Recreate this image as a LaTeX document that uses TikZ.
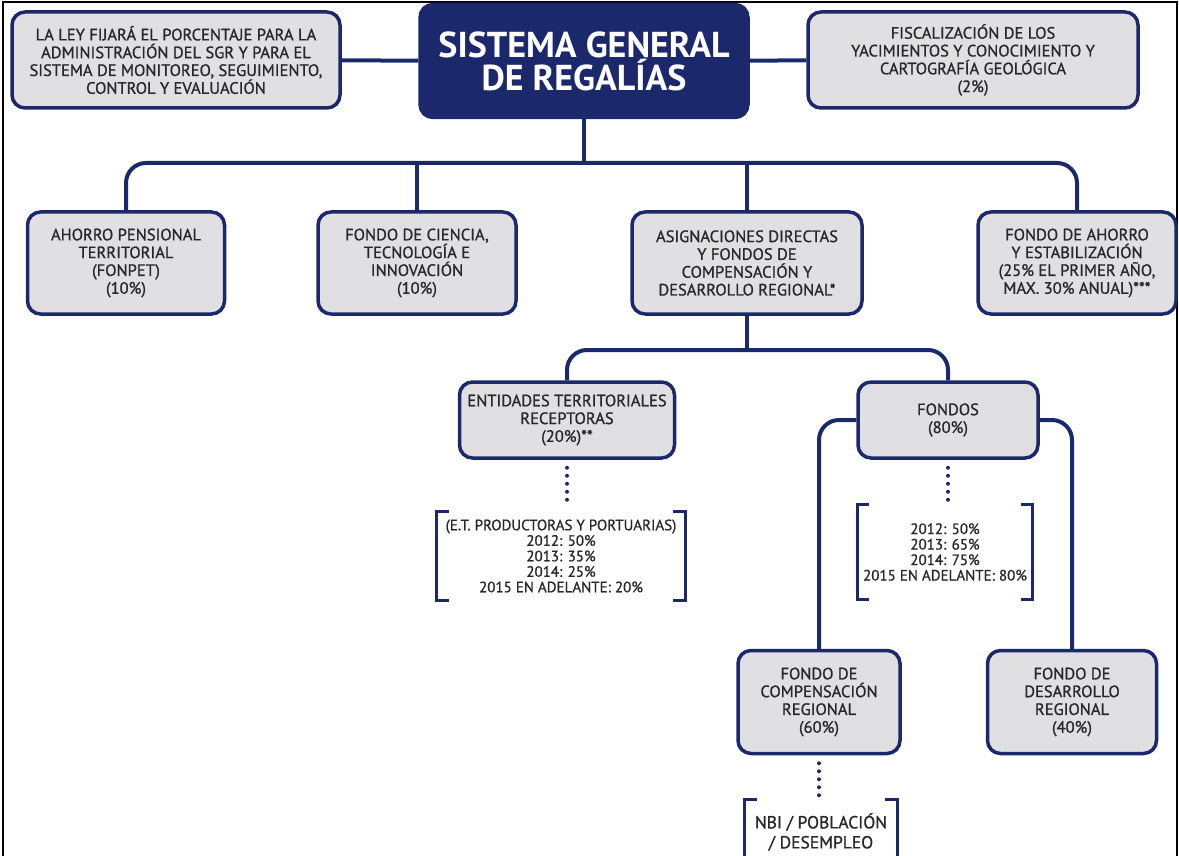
\documentclass[tikz,border=0pt]{standalone}
\usepackage{fontspec}
\setmainfont{PT Sans}
\newfontfamily\cajafont{PT Sans}[FakeBold=1]
\usetikzlibrary{positioning}
\definecolor{azul}{RGB}{28,40,108}
\definecolor{gris}{RGB}{224,224,226}
\definecolor{texto}{RGB}{40,40,44}
\tikzset{
caja/.style={draw=azul,line width=3.5pt,fill=gris,rounded corners=13pt,align=center,text=texto,inner sep=0pt,font=\cajafont\fontsize{16.5}{17.8}\selectfont},
linea/.style={draw=azul,line width=4pt,rounded corners=20pt},
puntos/.style={draw=azul,line width=4pt,line cap=round,dash pattern=on 0pt off 8pt},
corchete/.style={draw=azul,line width=3pt},
lista/.style={align=center,text=texto,inner sep=0pt,font=\cajafont\fontsize{15}{15.5}\selectfont}
}
\begin{document}
\begin{tikzpicture}[x=1pt,y=-1pt]
\useasboundingbox(0,0)rectangle(1179,856);
\begin{scope}
\clip(0,0)rectangle(1179,856);
\draw[line width=2pt](3,870)--(3,2)--(1177,2)--(1177,870);

\node[caja,minimum width=328,minimum height=96](ley)at(176,60){LA LEY FIJARÁ EL PORCENTAJE PARA LA\\ADMINISTRACIÓN DEL SGR Y PARA EL\\SISTEMA DE MONITOREO, SEGUIMIENTO,\\CONTROL Y EVALUACIÓN};
\node[caja,fill=azul,text=white,minimum width=328,minimum height=113,font=\bfseries\fontsize{36}{33}\selectfont](sgr)at(584,61){SISTEMA GENERAL\\DE REGALÍAS};
\node[caja,minimum width=330,minimum height=96](fisc)at(973,60){FISCALIZACIÓN DE LOS\\YACIMIENTOS Y CONOCIMIENTO Y\\CARTOGRAFÍA GEOLÓGICA\\(2\%)};

\node[caja,minimum width=197,minimum height=102](fonpet)at(126,263){AHORRO PENSIONAL\\TERRITORIAL\\(FONPET)\\(10\%)};
\node[caja,minimum width=198,minimum height=102](ciencia)at(417,263){FONDO DE CIENCIA,\\TECNOLOGÍA E\\INNOVACIÓN\\(10\%)};
\node[caja,minimum width=230,minimum height=102](asig)at(747,263){ASIGNACIONES DIRECTAS\\Y FONDOS DE\\COMPENSACIÓN Y\\DESARROLLO REGIONAL*};
\node[caja,minimum width=198,minimum height=102](fae)at(1077,263){FONDO DE AHORRO\\Y ESTABILIZACIÓN\\(25\% EL PRIMER AÑO,\\MAX. 30\% ANUAL)***};

\node[caja,minimum width=215,minimum height=76](ent)at(567,420){ENTIDADES TERRITORIALES\\RECEPTORAS\\(20\%)**};
\node[caja,minimum width=180,minimum height=76](fondos)at(948,420){FONDOS\\(80\%)};

\node[caja,minimum width=162,minimum height=103](fcr)at(819,702){FONDO DE\\COMPENSACIÓN\\REGIONAL\\(60\%)};
\node[caja,minimum width=169,minimum height=103](fdr)at(1072,702){FONDO DE\\DESARROLLO\\REGIONAL\\(40\%)};

\node[lista,minimum width=248,minimum height=88](et)at(561,556){(E.T. PRODUCTORAS Y PORTUARIAS)\\2012: 50\%\\2013: 35\%\\2014: 25\%\\2015 EN ADELANTE: 20\%};
\node[lista,minimum width=175,minimum height=95](anos)at(945,552){2012: 50\%\\2013: 65\%\\2014: 75\%\\2015 EN ADELANTE: 80\%};
\node[lista,font=\cajafont\fontsize{17.5}{20}\selectfont,minimum width=152,minimum height=64](nbi)at(821,832){NBI / POBLACIÓN\\/ DESEMPLEO};

\coordinate(bus)at(584,163);
\coordinate(bus2)at(747,350);
\draw[linea](ley)--(sgr);
\draw[linea](sgr)--(fisc);
\draw[linea](sgr)--(bus);
\draw[linea](fonpet.north)|-(bus)-|(fae.north);
\draw[linea](ciencia.north)--(ciencia.north|-bus);
\draw[linea](asig.north)--(asig.north|-bus);
\draw[linea](asig.south)--(bus2);
\draw[linea](ent.north)|-(bus2)-|(fondos.north);
\draw[linea](fondos.west)-|(fcr.north);
\draw[linea](fondos.east)-|(fdr.north);

\draw[puntos,shorten <=8pt,shorten >=6pt](ent.south)--(ent.south|-et.north);
\draw[puntos,shorten <=8pt,shorten >=4pt](fondos.south)--(fondos.south|-anos.north);
\draw[puntos,shorten <=8pt,shorten >=4pt](fcr.south)--(fcr.south|-nbi.north);

\draw[corchete]([xshift=12pt]et.north west)-|(et.south west)--++(12,0);
\draw[corchete]([xshift=-12pt]et.north east)-|(et.south east)--++(-12,0);
\draw[corchete]([xshift=12pt]anos.north west)-|(anos.south west)--++(12,0);
\draw[corchete]([xshift=-12pt]anos.north east)-|(anos.south east)--++(-12,0);
\draw[corchete]([xshift=12pt]nbi.north west)-|(nbi.south west)--++(12,0);
\draw[corchete]([xshift=-12pt]nbi.north east)-|(nbi.south east)--++(-12,0);
\end{scope}
\end{tikzpicture}
\end{document}
